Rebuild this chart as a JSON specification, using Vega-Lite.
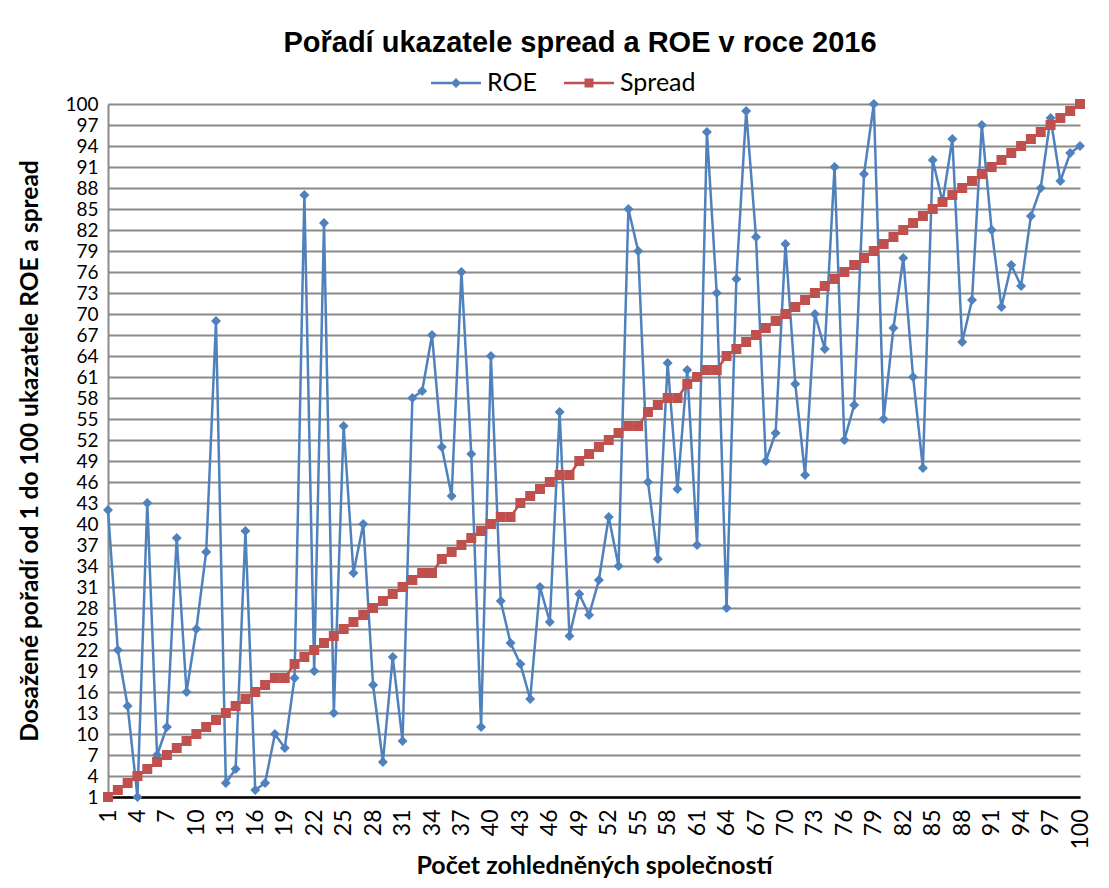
{
  "$schema": "https://vega.github.io/schema/vega-lite/v6.json",
  "width": 972,
  "height": 693,
  "autosize": {"type": "none"},
  "padding": {"left": 108, "top": 104, "right": 29, "bottom": 91},
  "background": "white",
  "title": {
    "text": "Pořadí ukazatele spread a ROE v roce 2016",
    "font": "Liberation Sans",
    "fontSize": 29,
    "fontWeight": "bold",
    "color": "black",
    "anchor": "middle",
    "dx": -14,
    "offset": 0
  },
  "data": {
    "values": [
      {"n": 1, "ROE": 42, "Spread": 1},
      {"n": 2, "ROE": 22, "Spread": 2},
      {"n": 3, "ROE": 14, "Spread": 3},
      {"n": 4, "ROE": 1, "Spread": 4},
      {"n": 5, "ROE": 43, "Spread": 5},
      {"n": 6, "ROE": 7, "Spread": 6},
      {"n": 7, "ROE": 11, "Spread": 7},
      {"n": 8, "ROE": 38, "Spread": 8},
      {"n": 9, "ROE": 16, "Spread": 9},
      {"n": 10, "ROE": 25, "Spread": 10},
      {"n": 11, "ROE": 36, "Spread": 11},
      {"n": 12, "ROE": 69, "Spread": 12},
      {"n": 13, "ROE": 3, "Spread": 13},
      {"n": 14, "ROE": 5, "Spread": 14},
      {"n": 15, "ROE": 39, "Spread": 15},
      {"n": 16, "ROE": 2, "Spread": 16},
      {"n": 17, "ROE": 3, "Spread": 17},
      {"n": 18, "ROE": 10, "Spread": 18},
      {"n": 19, "ROE": 8, "Spread": 18},
      {"n": 20, "ROE": 18, "Spread": 20},
      {"n": 21, "ROE": 87, "Spread": 21},
      {"n": 22, "ROE": 19, "Spread": 22},
      {"n": 23, "ROE": 83, "Spread": 23},
      {"n": 24, "ROE": 13, "Spread": 24},
      {"n": 25, "ROE": 54, "Spread": 25},
      {"n": 26, "ROE": 33, "Spread": 26},
      {"n": 27, "ROE": 40, "Spread": 27},
      {"n": 28, "ROE": 17, "Spread": 28},
      {"n": 29, "ROE": 6, "Spread": 29},
      {"n": 30, "ROE": 21, "Spread": 30},
      {"n": 31, "ROE": 9, "Spread": 31},
      {"n": 32, "ROE": 58, "Spread": 32},
      {"n": 33, "ROE": 59, "Spread": 33},
      {"n": 34, "ROE": 67, "Spread": 33},
      {"n": 35, "ROE": 51, "Spread": 35},
      {"n": 36, "ROE": 44, "Spread": 36},
      {"n": 37, "ROE": 76, "Spread": 37},
      {"n": 38, "ROE": 50, "Spread": 38},
      {"n": 39, "ROE": 11, "Spread": 39},
      {"n": 40, "ROE": 64, "Spread": 40},
      {"n": 41, "ROE": 29, "Spread": 41},
      {"n": 42, "ROE": 23, "Spread": 41},
      {"n": 43, "ROE": 20, "Spread": 43},
      {"n": 44, "ROE": 15, "Spread": 44},
      {"n": 45, "ROE": 31, "Spread": 45},
      {"n": 46, "ROE": 26, "Spread": 46},
      {"n": 47, "ROE": 56, "Spread": 47},
      {"n": 48, "ROE": 24, "Spread": 47},
      {"n": 49, "ROE": 30, "Spread": 49},
      {"n": 50, "ROE": 27, "Spread": 50},
      {"n": 51, "ROE": 32, "Spread": 51},
      {"n": 52, "ROE": 41, "Spread": 52},
      {"n": 53, "ROE": 34, "Spread": 53},
      {"n": 54, "ROE": 85, "Spread": 54},
      {"n": 55, "ROE": 79, "Spread": 54},
      {"n": 56, "ROE": 46, "Spread": 56},
      {"n": 57, "ROE": 35, "Spread": 57},
      {"n": 58, "ROE": 63, "Spread": 58},
      {"n": 59, "ROE": 45, "Spread": 58},
      {"n": 60, "ROE": 62, "Spread": 60},
      {"n": 61, "ROE": 37, "Spread": 61},
      {"n": 62, "ROE": 96, "Spread": 62},
      {"n": 63, "ROE": 73, "Spread": 62},
      {"n": 64, "ROE": 28, "Spread": 64},
      {"n": 65, "ROE": 75, "Spread": 65},
      {"n": 66, "ROE": 99, "Spread": 66},
      {"n": 67, "ROE": 81, "Spread": 67},
      {"n": 68, "ROE": 49, "Spread": 68},
      {"n": 69, "ROE": 53, "Spread": 69},
      {"n": 70, "ROE": 80, "Spread": 70},
      {"n": 71, "ROE": 60, "Spread": 71},
      {"n": 72, "ROE": 47, "Spread": 72},
      {"n": 73, "ROE": 70, "Spread": 73},
      {"n": 74, "ROE": 65, "Spread": 74},
      {"n": 75, "ROE": 91, "Spread": 75},
      {"n": 76, "ROE": 52, "Spread": 76},
      {"n": 77, "ROE": 57, "Spread": 77},
      {"n": 78, "ROE": 90, "Spread": 78},
      {"n": 79, "ROE": 100, "Spread": 79},
      {"n": 80, "ROE": 55, "Spread": 80},
      {"n": 81, "ROE": 68, "Spread": 81},
      {"n": 82, "ROE": 78, "Spread": 82},
      {"n": 83, "ROE": 61, "Spread": 83},
      {"n": 84, "ROE": 48, "Spread": 84},
      {"n": 85, "ROE": 92, "Spread": 85},
      {"n": 86, "ROE": 86, "Spread": 86},
      {"n": 87, "ROE": 95, "Spread": 87},
      {"n": 88, "ROE": 66, "Spread": 88},
      {"n": 89, "ROE": 72, "Spread": 89},
      {"n": 90, "ROE": 97, "Spread": 90},
      {"n": 91, "ROE": 82, "Spread": 91},
      {"n": 92, "ROE": 71, "Spread": 92},
      {"n": 93, "ROE": 77, "Spread": 93},
      {"n": 94, "ROE": 74, "Spread": 94},
      {"n": 95, "ROE": 84, "Spread": 95},
      {"n": 96, "ROE": 88, "Spread": 96},
      {"n": 97, "ROE": 98, "Spread": 97},
      {"n": 98, "ROE": 89, "Spread": 98},
      {"n": 99, "ROE": 93, "Spread": 99},
      {"n": 100, "ROE": 94, "Spread": 100}
    ]
  },
  "transform": [{"fold": ["ROE", "Spread"], "as": ["series", "rank"]}],
  "encoding": {
    "x": {
      "field": "n",
      "type": "quantitative",
      "scale": {"domain": [1, 100], "nice": false, "zero": false},
      "axis": {
        "title": "Počet zohledněných společností",
        "values": [1,4,7,10,13,16,19,22,25,28,31,34,37,40,43,46,49,52,55,58,61,64,67,70,73,76,79,82,85,88,91,94,97,100],
        "labelAngle": -90,
        "labelFont": "Lato",
        "labelFontSize": 23,
        "labelColor": "black",
        "labelPadding": 12,
        "labelOverlap": false,
        "labelBound": false,
        "labelFlush": false,
        "ticks": false,
        "grid": false,
        "domainColor": "black",
        "domainWidth": 2.5,
        "titleFont": "Lato",
        "titleFontSize": 25,
        "titleFontWeight": "bold",
        "titleColor": "black",
        "titlePadding": 4
      }
    },
    "y": {
      "field": "rank",
      "type": "quantitative",
      "scale": {"domain": [1, 100], "nice": false, "zero": false},
      "axis": {
        "title": "Dosažené pořadí od 1 do 100 ukazatele ROE a spread",
        "values": [1,4,7,10,13,16,19,22,25,28,31,34,37,40,43,46,49,52,55,58,61,64,67,70,73,76,79,82,85,88,91,94,97,100],
        "labelFont": "Lato",
        "labelFontSize": 19,
        "labelColor": "black",
        "labelPadding": 10,
        "labelOverlap": false,
        "labelFlush": false,
        "ticks": false,
        "grid": true,
        "gridColor": "#8a8a8a",
        "gridWidth": 1.8,
        "domainColor": "#8a8a8a",
        "domainWidth": 2,
        "titleFont": "Lato",
        "titleFontSize": 24.5,
        "titleFontWeight": "bold",
        "titleColor": "black",
        "titlePadding": 22
      }
    }
  },
  "layer": [
    {
      "mark": {"type": "line", "strokeWidth": 2.5},
      "encoding": {
        "color": {
          "field": "series",
          "type": "nominal",
          "scale": {"domain": ["ROE", "Spread"], "range": ["#4F81BD", "#C0504D"]},
          "legend": null
        }
      }
    },
    {
      "transform": [{"filter": "datum.series === 'ROE'"}],
      "mark": {"type": "point", "shape": "diamond", "filled": true, "opacity": 1, "size": 100},
      "encoding": {
        "color": {
          "field": "series",
          "type": "nominal",
          "scale": {"domain": ["ROE", "Spread"], "range": ["#4F81BD", "#C0504D"]},
          "legend": {
            "title": null,
            "values": ["ROE"],
            "orient": "none",
            "legendX": 323,
            "legendY": -46,
            "direction": "horizontal",
            "labelFont": "Lato",
            "labelFontSize": 25,
            "labelColor": "black",
            "labelOffset": 6,
            "symbolSize": 2500,
            "symbolStrokeWidth": 0,
            "symbolOpacity": 1,
            "symbolType": "M-1,-0.048L1,-0.048L1,0.048L-1,0.048Z M0,-0.2L0.2,0L0,0.2L-0.2,0Z"
          }
        }
      }
    },
    {
      "transform": [{"filter": "datum.series === 'Spread'"}],
      "mark": {"type": "point", "shape": "square", "filled": true, "opacity": 1, "size": 100},
      "encoding": {
        "color": {
          "field": "series",
          "type": "nominal",
          "scale": {"domain": ["ROE", "Spread"], "range": ["#4F81BD", "#C0504D"]},
          "legend": {
            "title": null,
            "values": ["Spread"],
            "orient": "none",
            "legendX": 456,
            "legendY": -46,
            "direction": "horizontal",
            "labelFont": "Lato",
            "labelFontSize": 25,
            "labelColor": "black",
            "labelOffset": 6,
            "symbolSize": 2500,
            "symbolStrokeWidth": 0,
            "symbolOpacity": 1,
            "symbolType": "M-1,-0.048L1,-0.048L1,0.048L-1,0.048Z M-0.18,-0.18L0.18,-0.18L0.18,0.18L-0.18,0.18Z"
          }
        }
      }
    }
  ],
  "resolve": {"legend": {"color": "independent"}},
  "config": {
    "view": {"stroke": null}
  }
}
